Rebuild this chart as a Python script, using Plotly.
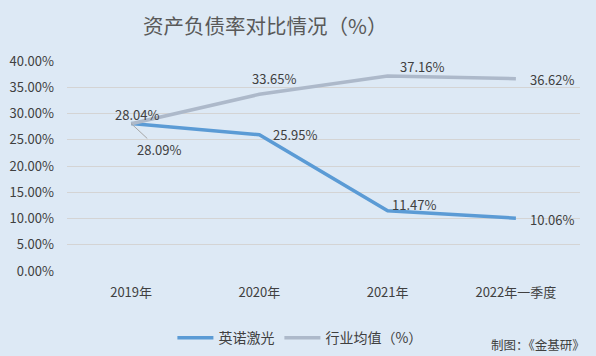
import plotly.graph_objects as go

categories = ["2019年", "2020年", "2021年", "2022年一季度"]
company = [28.09, 25.95, 11.47, 10.06]
industry = [28.04, 33.65, 37.16, 36.62]
tick_vals = [0, 5, 10, 15, 20, 25, 30, 35, 40]

FONT = "Noto Sans CJK SC"
TXT = "#404040"
BLUE = "#5b9bd5"
GRAY = "#adb9ca"
BG = "#dde9f5"

fig = go.Figure()
fig.add_trace(go.Scatter(x=categories, y=company, mode="lines", name="英诺激光",
                         line=dict(color=BLUE, width=3.5)))
fig.add_trace(go.Scatter(x=categories, y=industry, mode="lines", name="行业均值（%）",
                         line=dict(color=GRAY, width=3.5)))

# label offsets (pixels) for each point
comp_shift = [None, (36, 0), (26, 6), (36, -1)]
ind_shift = [(6, 9), (15, 16), (34, 9), (36, -1)]

ann = []
for i, (c, v) in enumerate(zip(categories, industry)):
    dx, dy = ind_shift[i]
    ann.append(dict(x=c, y=v, xref="x", yref="y", text=f"{v:.2f}%", showarrow=False,
                    xshift=dx, yshift=dy, font=dict(family=FONT, size=13, color=TXT)))
for i, (c, v) in enumerate(zip(categories, company)):
    if comp_shift[i] is None:
        ann.append(dict(x=c, y=v, xref="x", yref="y", text=f"{v:.2f}%", showarrow=True,
                        ax=28, ay=26, arrowhead=0, arrowwidth=1, arrowcolor="#a6a6a6",
                        standoff=0, font=dict(family=FONT, size=13, color=TXT)))
    else:
        dx, dy = comp_shift[i]
        ann.append(dict(x=c, y=v, xref="x", yref="y", text=f"{v:.2f}%", showarrow=False,
                        xshift=dx, yshift=dy, font=dict(family=FONT, size=13, color=TXT)))

ann.append(dict(x=1.014, y=-0.352, xref="paper", yref="paper",
                text="制图：《金基研》", showarrow=False, xanchor="right",
                yanchor="middle", font=dict(family=FONT, size=12.5, color=TXT)))

fig.update_layout(
    width=596, height=356,
    paper_bgcolor=BG, plot_bgcolor=BG,
    margin=dict(l=67, r=16, t=61, b=85, autoexpand=False),
    title=dict(text="资产负债率对比情况（%）", x=0.445, xanchor="center",
               y=0.924, yanchor="middle",
               font=dict(family=FONT, size=20.5, color="#595959")),
    font=dict(family=FONT, size=13, color=TXT),
    showlegend=True,
    legend=dict(orientation="h", x=0.454, xanchor="center", y=-0.32, yanchor="middle",
                font=dict(family=FONT, size=14, color=TXT), bgcolor="rgba(0,0,0,0)",
                itemwidth=36),
    annotations=ann,
)
fig.update_xaxes(range=[-0.5, 3.5], showgrid=False, zeroline=False, showline=False,
                 ticks="", ticklabelstandoff=12, automargin=False,
                 tickfont=dict(family=FONT, size=13, color=TXT))
fig.update_yaxes(range=[0, 40], tickvals=tick_vals,
                 ticktext=[f"{t:.2f}%" for t in tick_vals],
                 showgrid=True, gridcolor="#d4d4d4", gridwidth=1, zeroline=False,
                 showline=False, ticks="", ticklabelstandoff=12, automargin=False,
                 tickfont=dict(family=FONT, size=13, color=TXT))

fig.write_html("out.html", config={"displayModeBar": False},
               post_script="document.body.style.margin='0';document.body.style.overflow='hidden';")
